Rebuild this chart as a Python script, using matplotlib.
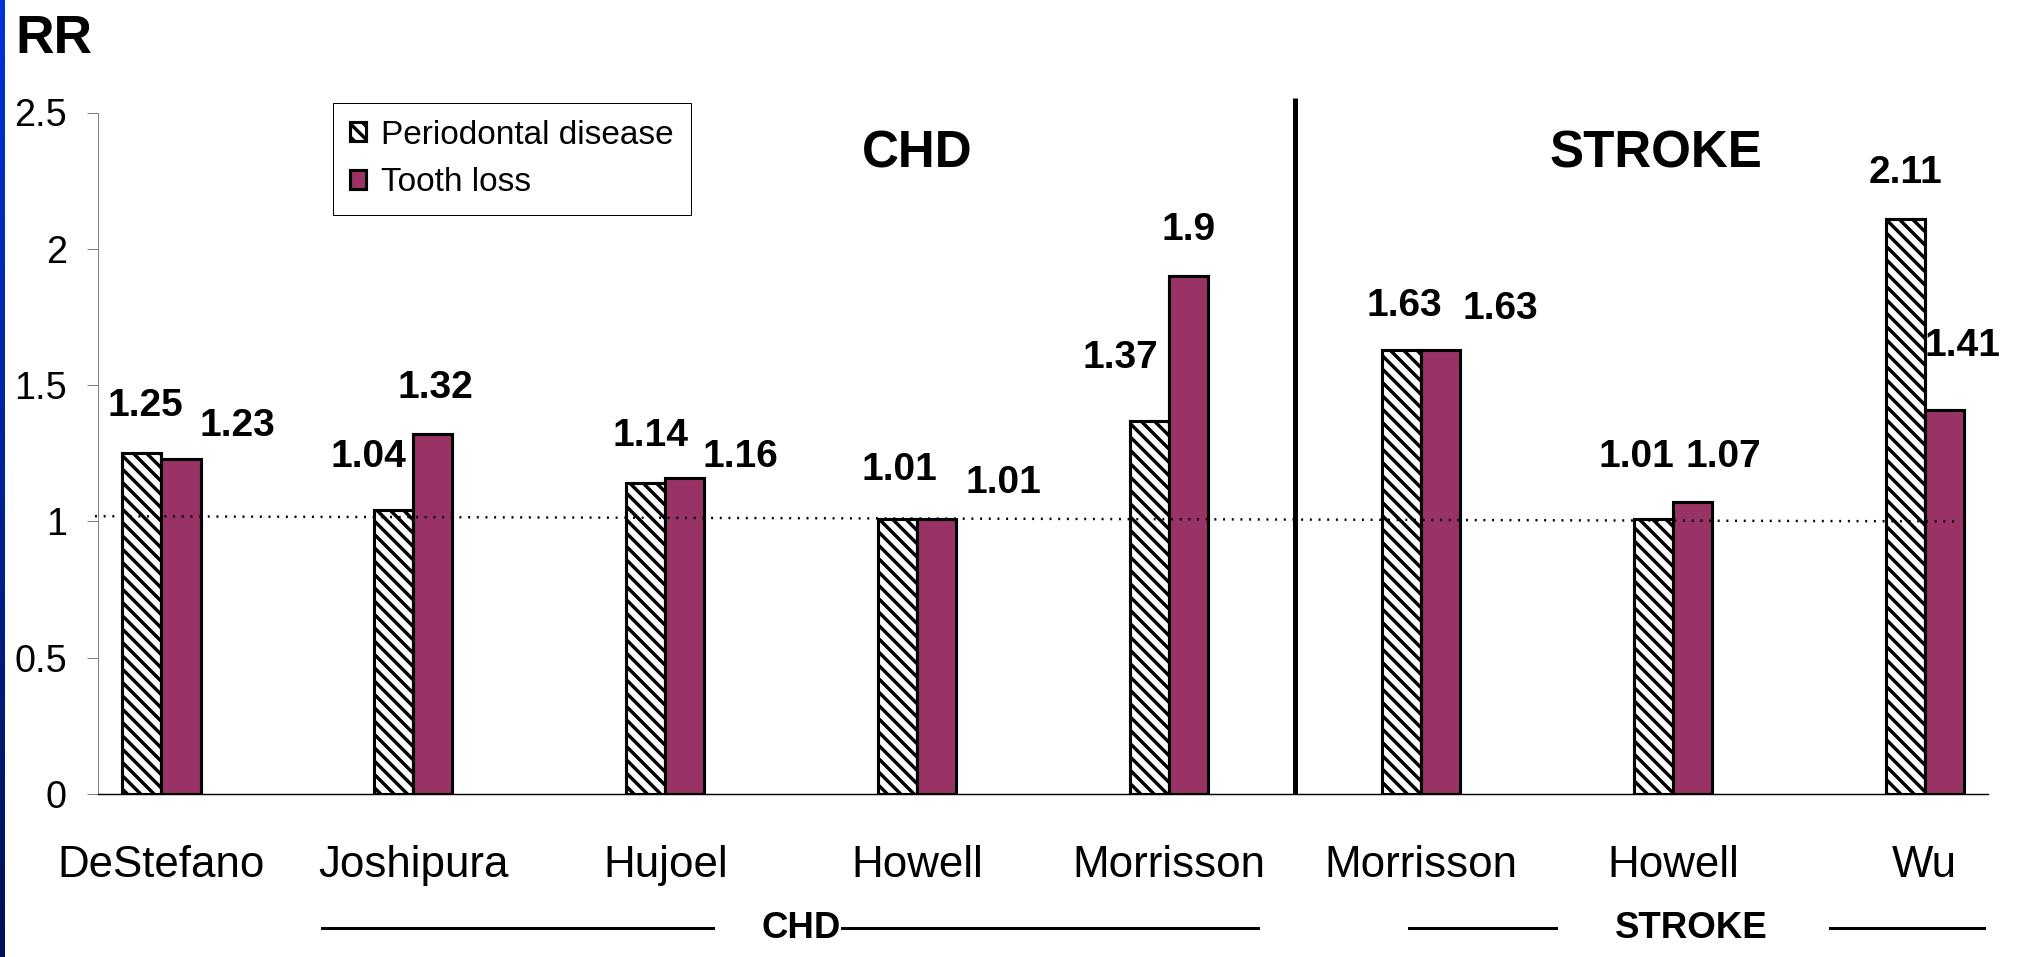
import numpy as np
import matplotlib
matplotlib.use('Agg')
import matplotlib.pyplot as plt
from matplotlib import transforms

# Data
studies = ['DeStefano', 'Joshipura', 'Hujoel', 'Howell', 'Morrisson',
           'Morrisson', 'Howell', 'Wu']
periodontal = [1.25, 1.04, 1.14, 1.01, 1.37, 1.63, 1.01, 2.11]
tooth_loss = [1.23, 1.32, 1.16, 1.01, 1.90, 1.63, 1.07, 1.41]
series_names = ['Periodontal disease', 'Tooth loss']
yticks = [0, 0.5, 1, 1.5, 2, 2.5]
ytick_labels = ['0', '0.5', '1', '1.5', '2', '2.5']

# value label placement (offsets from group centre / bar top, hand tuned)
pd_label_dx = [-0.065, -0.180, -0.057, -0.071, -0.192, -0.068, -0.146, -0.077]
pd_label_dy = [0.188, 0.210, 0.188, 0.194, 0.244, 0.175, 0.242, 0.183]
tl_label_dx = [0.300, 0.088, 0.300, 0.342, 0.076, 0.313, 0.202, 0.148]
tl_label_dy = [0.135, 0.184, 0.092, 0.147, 0.184, 0.164, 0.182, 0.246]

# group brackets under the x labels
groups = ['CHD', 'STROKE']
group_text_x = [2.541, 6.075]
group_lines = [[(0.637, 2.189), (2.701, 4.353)],
               [(4.952, 5.536), (6.623, 7.235)]]

plt.rcParams['font.family'] = ['Liberation Sans', 'DejaVu Sans']
plt.rcParams['hatch.linewidth'] = 3.1

W, H, DPI = 2017, 957, 80
fig = plt.figure(figsize=(W / DPI, H / DPI), dpi=DPI)
fig.patch.set_facecolor('white')

# blue strip on the left edge
strip = fig.add_axes([0, 0, 5 / W, 1])
top_c = np.array([0.0, 0.20, 0.85])
bot_c = np.array([0.0, 0.07, 0.33])
t = np.linspace(0, 1, 200)[:, None, None]
strip.imshow(top_c * (1 - t) + bot_c * t, aspect='auto')
strip.axis('off')

ax = fig.add_axes([98 / W, 163 / H, 1890 / W, 681.5 / H])
x = np.arange(len(studies))
w = 0.155

b1 = ax.bar(x - w / 2, periodontal, w, color='white', edgecolor='black',
            hatch='\\\\', linewidth=2.8, zorder=2)
b2 = ax.bar(x + w / 2, tooth_loss, w, color='#993366', edgecolor='black',
            linewidth=2.8, zorder=2)

# value labels
for i in range(len(studies)):
    ax.text(x[i] + pd_label_dx[i], periodontal[i] + pd_label_dy[i] - 0.051,
            f'{periodontal[i]:g}', ha='center', va='baseline',
            fontsize=35, fontweight='bold')
    ax.text(x[i] + tl_label_dx[i], tooth_loss[i] + tl_label_dy[i] - 0.051,
            f'{tooth_loss[i]:g}', ha='center', va='baseline',
            fontsize=35, fontweight='bold')

# reference line at RR = 1
ax.plot([-0.264, 7.12], [1.019, 1.0], color='black', lw=2.2,
        linestyle=(0, (0.8, 2.75)), clip_on=False, zorder=3)

# divider between CHD and stroke
ax.plot([4.5, 4.5], [0, 2.553], color='black', lw=4.5, clip_on=False,
        solid_capstyle='butt', zorder=3)

ax.text(3.0, 2.300, 'CHD', ha='center', va='baseline', fontsize=46,
        fontweight='bold')
ax.text(5.932, 2.300, 'STROKE', ha='center', va='baseline', fontsize=46,
        fontweight='bold')

ax.set_xlim(-0.252, 7.251)
ax.set_ylim(0, 2.5)
ax.set_xticks(x)
ax.set_xticklabels(studies)
ax.set_yticks(yticks)
ax.set_yticklabels(ytick_labels)
ax.tick_params(axis='x', length=0, pad=46, labelsize=39.5)
ax.tick_params(axis='y', length=10, width=0.9, color='#808080', pad=18,
               labelsize=34)
for s in ['top', 'right']:
    ax.spines[s].set_visible(False)
ax.spines['left'].set_color('#808080')
ax.spines['left'].set_linewidth(0.9)
ax.spines['bottom'].set_color('black')
ax.spines['bottom'].set_linewidth(1.3)

# bracket lines + group names below x labels
tr = transforms.blended_transform_factory(ax.transData, fig.transFigure)
y_br = 1 - 928 / H
for name, gx, segs in zip(groups, group_text_x, group_lines):
    for x0, x1 in segs:
        ax.plot([x0, x1], [y_br, y_br], color='black', lw=2.7,
                transform=tr, clip_on=False)
    ax.text(gx, y_br, name, transform=tr, ha='center', va='center',
            fontsize=33, fontweight='bold')

leg = ax.legend([b1, b2], series_names, loc='upper left',
                bbox_to_anchor=(333 / W, 1 - 103 / H),
                bbox_transform=fig.transFigure, fontsize=30,
                frameon=True, fancybox=False, edgecolor='black',
                framealpha=1, borderpad=0.5, labelspacing=0.5,
                handlelength=0.5, handleheight=0.5, handletextpad=0.45,
                borderaxespad=0)
leg.get_frame().set_linewidth(0.9)

fig.text(15 / W, 1 - 14 / H, 'RR', ha='left', va='top', fontsize=48,
         fontweight='bold')

fig.savefig('out.png', dpi=DPI)
